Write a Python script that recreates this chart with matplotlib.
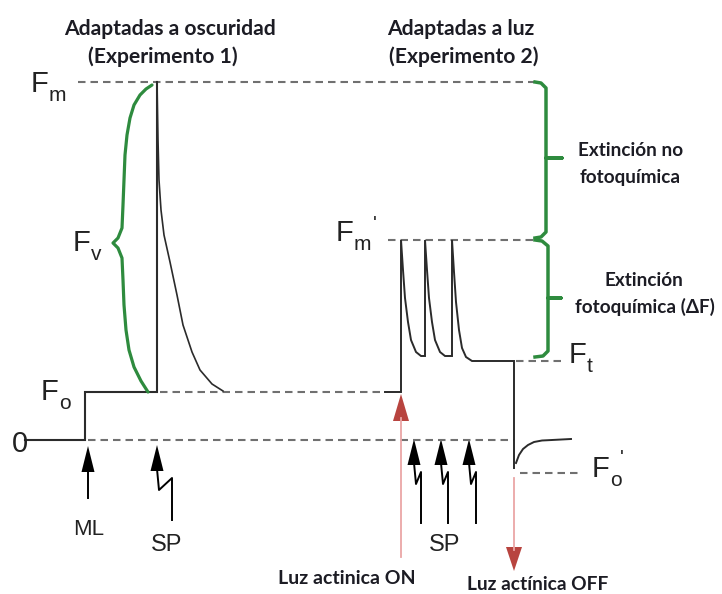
import matplotlib
matplotlib.use("Agg")
import matplotlib.pyplot as plt

# canvas works in pixel units of the 722x594 picture, y grows downward
W, H = 722, 594

# fluorescence levels
y_zero = 440
y_fo = 392
y_fm = 82
y_fm_p = 240
y_ft = 361
y_fo_p = 473

# experiment 1 (dark adapted) trace
exp1_x = [25, 85, 85, 157, 157]
exp1_y = [y_zero, y_zero, y_fo, y_fo, y_fm]
decay1_x = [157, 158, 159, 161, 164, 170, 177, 183, 192, 200, 212, 223]
decay1_y = [82, 140, 180, 210, 235, 262, 295, 325, 352, 370, 384, 391]

# experiment 2 (light adapted) trace with three saturating pulses
exp2_x = [385, 401, 401, 403, 405, 408, 411, 416, 421, 425, 425, 427, 429, 432,
          435, 440, 445, 452, 452, 454, 456, 459, 462, 466, 472, 514, 514]
exp2_y = [392, 392, 240, 270, 298, 322, 340, 352, 356, 356, 240, 270, 298, 322,
          340, 352, 356, 356, 240, 272, 302, 330, 348, 357, 361, 361, 468]
recov_x = [516, 519, 523, 528, 534, 542, 552, 571]
recov_y = [463, 455, 449, 445, 442, 440.5, 440, 439]

# dashed reference lines: (x0, x1, y)
dashed = [(88, 514, y_zero), (78, 535, y_fm), (160, 385, y_fo),
          (388, 535, y_fm_p), (516, 562, y_ft), (520, 580, y_fo_p)]

# green braces
fv_brace_x = [152, 146, 140, 134, 130, 127, 125, 124, 123, 122, 118, 113, 118,
              122, 123, 124, 126, 129, 134, 141, 148]
fv_brace_y = [85, 89, 95, 105, 118, 135, 155, 180, 205, 228, 238, 243, 248,
              258, 280, 305, 330, 350, 367, 381, 392]
nq_brace_x = [535, 541, 546, 546, 562, 546, 546, 541, 535]
nq_brace_y = [82, 83, 88, 158, 158, 158, 232, 237, 238]
pq_brace_x = [535, 542, 548, 548, 561, 548, 548, 543, 535]
pq_brace_y = [240, 241, 246, 298, 298, 298, 351, 356, 357]

# arrows
ml_x = 88
sp1_x = 157
sp2_x = [414, 441, 469]
on_x = 401
off_x = 514

GREEN = "#2e8b3e"
TRACE = "#2b2b2b"
DASH = "#707070"
TXT = "#1c1c24"
RED_HEAD = "#b8443f"
RED_LINE = "#eaa6a6"

fig = plt.figure(figsize=(W / 100, H / 100), dpi=100)
ax = fig.add_axes([0, 0, 1, 1])
ax.set_xlim(0, W)
ax.set_ylim(H, 0)
ax.axis("off")

for x0, x1, y in dashed:
    ax.plot([x0, x1], [y, y], color=DASH, lw=1.5, ls=(0, (3.6, 2.4)))

ax.plot(exp1_x, exp1_y, color=TRACE, lw=1.5, solid_joinstyle="miter")
ax.plot(decay1_x, decay1_y, color=TRACE, lw=1.2)
ax.plot(exp2_x, exp2_y, color=TRACE, lw=1.4, solid_joinstyle="miter")
ax.plot(recov_x, recov_y, color=TRACE, lw=1.4)

ax.plot(fv_brace_x, fv_brace_y, color=GREEN, lw=2.3, solid_capstyle="round",
        solid_joinstyle="round")
ax.plot(nq_brace_x, nq_brace_y, color=GREEN, lw=2.5)
ax.plot(pq_brace_x, pq_brace_y, color=GREEN, lw=2.5)


def head(x, tip, base, color, hw=6):
    ax.fill([x, x - hw, x + hw], [tip, base, base], color=color, lw=0)


def bolt(x, tip, dx, bottom):
    head(x, tip, tip + 26, "black", hw=6.5)
    ax.plot([x, x + 2, x + dx, x + dx], [tip + 24, tip + 45, tip + 33, bottom],
            color="black", lw=1.4)


# measuring light and saturating pulses
head(ml_x, 446, 472, "black", hw=6.5)
ax.plot([ml_x, ml_x], [470, 498], color="black", lw=1.4)
bolt(sp1_x, 445, 15, 520)
for x in sp2_x:
    bolt(x, 439, 7, 523)

# actinic light on / off
ax.plot([on_x, on_x], [418, 557], color=RED_LINE, lw=1.3)
head(on_x, 394, 421, RED_HEAD, hw=8)
ax.plot([off_x, off_x], [478, 550], color=RED_LINE, lw=1.3)
head(off_x, 571, 547, RED_HEAD, hw=8)


def flabel(x, y, sub, prime=None):
    ax.text(x, y, "F", fontsize=21, family="Liberation Sans", color="#222",
            va="baseline")
    ax.text(x + 18, y + 9, sub, fontsize=15, family="Liberation Sans",
            color="#222", va="baseline")
    if prime is not None:
        ax.text(prime[0], prime[1], "'", fontsize=15, family="Liberation Sans",
                color="#222", va="baseline")


flabel(31, 92, "m")
flabel(73, 251, "v")
flabel(41, 400, "o")
flabel(336, 241, "m", prime=(373, 230))
flabel(569, 363, "t")
flabel(592, 477, "o", prime=(620, 464))
ax.text(12, 452, "0", fontsize=21, family="Liberation Sans", color="#222",
        va="baseline")

ax.text(89, 535, "ML", fontsize=16, family="Liberation Sans", color="#222",
        ha="center", va="baseline")
ax.text(167, 551, "SP", fontsize=17, family="Liberation Sans", color="#222",
        ha="center", va="baseline")
ax.text(445, 551, "SP", fontsize=17, family="Liberation Sans", color="#222",
        ha="center", va="baseline")

tfont = dict(family="Lato", weight="bold", color=TXT, ha="center",
             va="baseline")
ax.text(170, 35, "Adaptadas a oscuridad", fontsize=15.2, **tfont)
ax.text(163, 63, "(Experimento 1)", fontsize=15.2, **tfont)
ax.text(461, 35, "Adaptadas a luz", fontsize=15.2, **tfont)
ax.text(464, 63, "(Experimento 2)", fontsize=15.2, **tfont)

bfont = dict(family="Lato", weight="bold", color=TXT, ha="center", va="center")
ax.text(631, 151, "Extinción no", fontsize=13.6, **bfont)
ax.text(630, 178, "fotoquímica", fontsize=13.6, **bfont)
ax.text(644, 281, "Extinción", fontsize=13.6, **bfont)
ax.text(645, 307, "fotoquímica (ΔF)", fontsize=13.6, **bfont)
ax.text(347, 578, "Luz actinica ON", fontsize=14, **bfont)
ax.text(538, 585, "Luz actínica OFF", fontsize=13.8, **bfont)

fig.savefig("out.png", dpi=100)
